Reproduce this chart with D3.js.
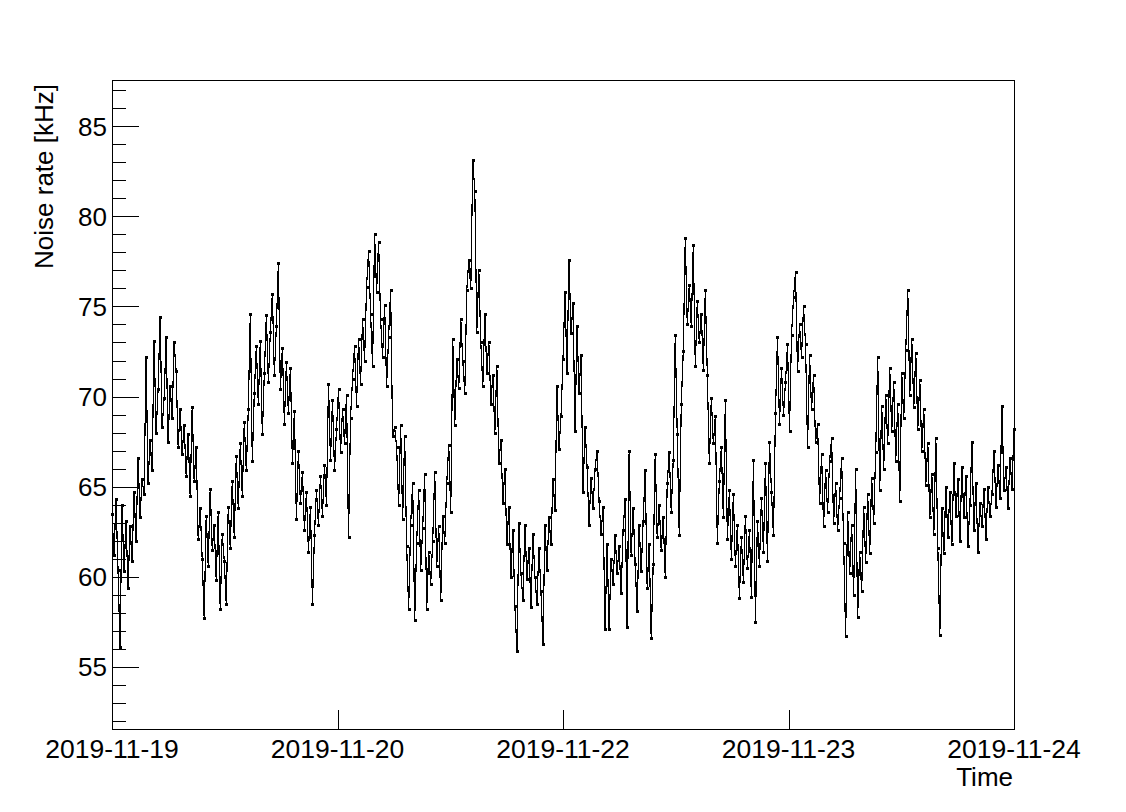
<!DOCTYPE html>
<html>
<head>
<meta charset="utf-8">
<script src="https://cdn.jsdelivr.net/npm/d3@7"></script>
<style>
  html, body { margin: 0; padding: 0; background: #fff; }
  svg { display: block; font-family: "Liberation Sans", Arial, Helvetica, sans-serif; }
</style>
</head>
<body>
<svg id="chart" width="1126" height="812"></svg>
<script>
// ---- data ----
const startTime = "2019-11-19T00:00:00Z";
const endTime = "2019-11-24T00:00:00Z";
const sampleMinutes = 16;
const noiseRate = [
  63.5,61.2,64.3,60.4,56.1,64.0,60.3,63.1,59.4,62.8,60.9,64.7,62.0,66.6,63.3,65.4,64.6,72.2,65.2,67.6,
  65.9,73.1,68.0,70.4,74.4,68.3,69.9,73.3,67.5,70.6,68.8,73.0,71.4,67.2,69.3,66.8,68.4,65.6,67.9,64.5,
  69.4,65.3,67.2,62.1,63.8,61.0,57.7,63.4,60.6,64.9,61.5,62.9,59.8,63.6,58.2,62.4,
  60.9,58.5,63.9,61.6,65.3,62.2,66.7,63.8,67.4,64.5,68.6,65.9,69.3,74.6,66.4,70.2,72.8,69.6,73.1,67.9,
  71.3,74.5,70.8,73.6,75.7,71.2,73.9,77.4,70.4,72.7,68.5,71.9,69.1,71.6,66.3,69.2,63.2,67.0,64.1,65.8,
  62.6,64.7,61.4,63.9,58.5,62.3,64.8,62.9,65.6,63.4,66.2,64.0,70.7,66.5,69.8,65.9,68.2,
  70.4,66.9,69.3,67.4,70.1,62.2,68.8,71.0,72.8,69.5,73.2,70.7,74.3,72.0,76.1,78.1,74.6,71.7,79.0,75.8,
  78.6,74.3,72.2,75.1,70.6,73.3,75.9,67.8,68.3,67.2,64.0,68.4,63.2,67.8,61.7,58.2,62.9,65.2,57.6,61.9,
  64.8,60.4,62.7,65.7,58.2,61.4,59.6,62.0,65.8,60.6,62.8,58.7,63.4,61.9,65.2,67.3,
  63.6,73.2,68.4,72.1,70.5,74.3,72.0,70.2,75.9,77.6,76.0,83.1,81.4,73.6,77.0,73.0,70.6,74.6,71.3,73.0,
  69.6,71.2,68.0,71.7,66.3,67.6,64.1,66.0,61.8,63.9,60.0,62.6,58.4,55.9,63.0,60.2,58.7,62.9,59.9,61.6,
  58.3,62.4,60.0,58.5,61.6,59.2,56.3,62.9,60.4,63.3,61.8,65.4,63.7,70.6,67.1,
  68.9,72.1,75.8,71.3,77.6,73.5,75.2,68.1,73.9,70.2,72.3,64.7,68.3,66.1,62.9,65.5,63.8,66.0,67.0,64.2,
  62.4,63.9,57.1,61.8,57.1,61.0,59.6,62.3,60.2,61.7,59.1,62.6,64.3,57.2,67.0,61.2,63.8,60.7,58.1,62.9,
  60.3,63.1,65.9,59.4,61.8,56.6,60.7,66.8,62.2,64.0,61.5,63.3,60.0,65.2,66.9,63.6,
  66.5,73.4,67.9,62.3,69.6,72.5,78.8,74.0,76.2,73.9,78.4,71.7,75.3,73.0,74.6,71.5,75.9,71.2,66.3,69.9,
  67.4,68.9,61.9,65.3,67.2,63.3,69.8,62.1,64.8,61.0,64.6,60.6,62.9,58.8,62.2,59.7,63.4,60.5,62.6,58.9,
  66.5,57.5,63.1,60.6,64.4,61.4,66.3,60.9,67.5,64.7,62.3,69.1,73.3,68.5,71.6,69.0,
  70.8,72.9,68.1,73.4,75.5,76.9,71.4,74.0,72.2,75.0,72.9,67.2,72.3,69.3,71.2,67.5,68.5,64.1,66.8,62.8,
  65.9,63.6,66.4,67.7,63.0,65.2,62.6,64.4,66.6,61.9,56.7,63.6,60.2,62.9,59.0,66.0,57.8,61.4,59.2,63.9,
  60.8,64.6,61.3,65.5,63.0,66.9,72.2,64.8,69.5,66.0,70.1,67.4,71.6,68.1,70.8,66.4,
  69.6,64.2,71.3,68.8,72.6,75.9,70.1,73.2,69.4,72.4,68.2,70.9,67.0,69.3,65.1,67.4,63.3,65.7,62.4,67.7,
  61.6,56.8,63.8,61.3,65.0,62.2,64.7,61.8,66.3,63.4,65.4,62.0,66.1,63.3,65.6,61.7,64.0,67.5,62.6,65.2,
  61.4,64.1,62.8,64.9,62.1,65.0,63.4,64.6,67.0,63.9,66.2,64.4,69.5,64.8,66.1,63.8,66.6,64.9,68.2
];
const yDomain = [51.56, 87.56];
const yMajorTicks = [55, 60, 65, 70, 75, 80, 85];
const yMinorTicks = [52,53,54,56,57,58,59,61,62,63,64,66,67,68,69,71,72,73,74,76,77,78,79,81,82,83,84,86,87];
const xTickLabels = ["2019-11-19", "2019-11-20", "2019-11-22", "2019-11-23", "2019-11-24"];
const xTitle = "Time";
const yTitle = "Noise rate [kHz]";

// ---- layout ----
const L = 112, R = 1014, T = 80, B = 729;
const svg = d3.select("#chart");

const t0 = new Date(startTime), t1 = new Date(endTime);
const x = d3.scaleUtc().domain([t0, t1]).range([L, R]);
const y = d3.scaleLinear().domain(yDomain).range([B, T]);

const points = noiseRate.map((v, i) => ({ t: new Date(t0.getTime() + i * sampleMinutes * 60000), v }));

// frame
svg.append("rect").attr("x", L + 0.5).attr("y", T + 0.5).attr("width", R - L).attr("height", B - T)
  .attr("fill", "none").attr("stroke", "#000").attr("stroke-width", 1).attr("shape-rendering", "crispEdges");

// y axis (major + minor, ticks inward)
const yAxisMajor = d3.axisRight(y).tickValues(yMajorTicks).tickSize(27).tickFormat("");
const yAxisMinor = d3.axisRight(y).tickValues(yMinorTicks).tickSize(14).tickFormat("");
const gyMaj = svg.append("g").attr("transform", `translate(${L},0)`).call(yAxisMajor);
const gyMin = svg.append("g").attr("transform", `translate(${L},0)`).call(yAxisMinor);
[gyMaj, gyMin].forEach(g => { g.select(".domain").remove(); g.selectAll("line").attr("stroke", "#000").attr("shape-rendering", "crispEdges"); });
svg.append("g").selectAll("text").data(yMajorTicks).join("text")
  .attr("x", L - 5).attr("y", d => y(d)).attr("dy", "0.36em")
  .attr("text-anchor", "end").attr("font-size", 26).attr("fill", "#000")
  .text(d => d);

// x axis
const xTickValues = xTickLabels.map((_, i) => new Date(t0.getTime() + (t1 - t0) * i / (xTickLabels.length - 1)));
const xAxis = d3.axisTop(x).tickValues(xTickValues).tickSize(19).tickFormat("");
const gx = svg.append("g").attr("transform", `translate(0,${B})`).call(xAxis);
gx.select(".domain").remove();
gx.selectAll("line").attr("stroke", "#000").attr("shape-rendering", "crispEdges");
svg.append("g").selectAll("text").data(xTickValues).join("text")
  .attr("x", d => x(d)).attr("y", 758)
  .attr("text-anchor", "middle").attr("font-size", 26.5).attr("fill", "#000")
  .text((d, i) => xTickLabels[i]);

// titles
svg.append("text").attr("x", R - 1).attr("y", 786).attr("text-anchor", "end")
  .attr("font-size", 26).attr("fill", "#000").text(xTitle);
svg.append("text").attr("transform", `translate(53,${T + 4}) rotate(-90)`)
  .attr("text-anchor", "end").attr("font-size", 26).attr("fill", "#000").text(yTitle);

// line
const line = d3.line().x(d => x(d.t)).y(d => y(d.v));
svg.append("path").datum(points).attr("d", line)
  .attr("fill", "none").attr("stroke", "#000").attr("stroke-width", 1.2)
  .attr("shape-rendering", "crispEdges");

// markers
svg.append("g").attr("shape-rendering", "crispEdges").selectAll("rect").data(points).join("rect")
  .attr("x", d => Math.round(x(d.t)) - 1.5).attr("y", d => Math.round(y(d.v)) - 1.5)
  .attr("width", 3).attr("height", 3).attr("fill", "#000");
</script>
</body>
</html>
